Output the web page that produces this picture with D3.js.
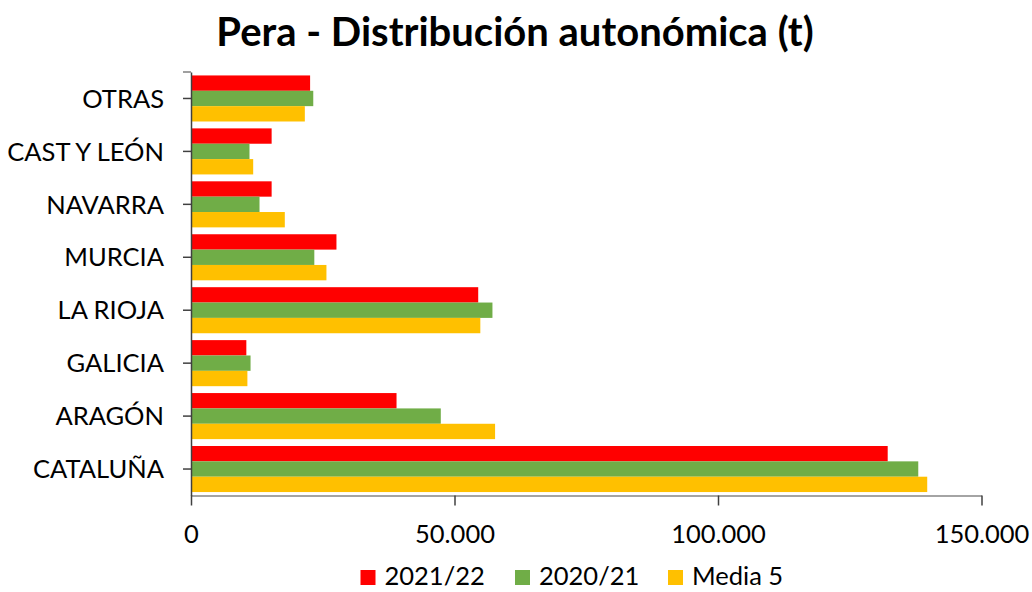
<!DOCTYPE html>
<html><head><meta charset="utf-8">
<script src="https://cdn.jsdelivr.net/npm/d3@7"></script>
<style>body{margin:0;background:#fff}svg{display:block}text{font-family:Lato,"Open Sans",sans-serif}</style>
</head><body>
<svg id="c" width="1032" height="592"></svg>
<script>
const categories = ["OTRAS","CAST Y LEÓN","NAVARRA","MURCIA","LA RIOJA","GALICIA","ARAGÓN","CATALUÑA"];
const seriesNames = ["2021/22","2020/21","Media 5"];
const v2122 = [22600,15300,15300,27600,54500,10500,39000,132200];
const v2021 = [23200,11100,13000,23400,57200,11300,47400,138000];
const media5 = [21600,11800,17800,25700,54900,10700,57700,139700];
const xTicks = [0,50000,100000,150000];
const colors = ["#FF0000","#70AD47","#FFC000"];
const values = [v2122, v2021, media5];

const svg = d3.select("#c");
const pL = 191, pR = 981.5, pT = 72, pB = 495.5;
const FS = 25.5;
const x = d3.scaleLinear().domain([0,150000]).range([pL,pR]);
const y = d3.scaleBand().domain(categories).range([pT,pB]).paddingInner(0.13).paddingOuter(0.065);
const ySub = d3.scaleBand().domain(seriesNames).range([0,y.bandwidth()]);

svg.append("text").attr("x",515).attr("y",46).attr("text-anchor","middle")
  .attr("font-size",40).attr("font-weight","bold").text("Pera - Distribución autonómica (t)");

const g = svg.append("g");
seriesNames.forEach((s,si)=>{
  g.selectAll(null).data(categories).enter().append("rect")
    .attr("x",x(0)).attr("y",c=>y(c)+ySub(s))
    .attr("width",(c,i)=>x(values[si][i])-x(0)).attr("height",ySub.bandwidth())
    .attr("fill",colors[si]);
});

// x axis
const xa = svg.append("g").attr("transform",`translate(0,${pB})`)
  .call(d3.axisBottom(x).tickValues(xTicks).tickSize(10).tickSizeOuter(0)
    .tickFormat(d=>d===0?"0":d3.format(",")(d).replace(/,/g,".")));
xa.select(".domain").attr("stroke","#868686").attr("stroke-width",1.5);
xa.selectAll(".tick line").attr("stroke","#404040").attr("stroke-width",1.5);
xa.selectAll(".tick text").attr("font-size",FS).attr("fill","#000").attr("y",47.5).attr("dy",0)
  .style("font-family","Lato,'Open Sans',sans-serif");

// y axis
const ya = svg.append("g").attr("transform",`translate(${pL},0)`)
  .call(d3.axisLeft(y).tickSize(8).tickSizeOuter(0).tickPadding(20));
ya.select(".domain").attr("stroke","#404040").attr("stroke-width",1.5);
ya.selectAll(".tick line").attr("stroke","#404040").attr("stroke-width",1.5).attr("x2",0).attr("x1",-8);
ya.selectAll(".tick text").attr("font-size",FS).attr("fill","#000").attr("dy","0.36em").attr("x",-27)
  .style("font-family","Lato,'Open Sans',sans-serif");
ya.append("line").attr("x1",-8).attr("x2",0).attr("y1",pT).attr("y2",pT).attr("stroke","#808080").attr("stroke-width",1.5);

// legend
const legX = [360.5, 515, 668];
seriesNames.forEach((s,i)=>{
  svg.append("rect").attr("x",legX[i]).attr("y",570).attr("width",15).attr("height",15).attr("fill",colors[i]);
  svg.append("text").attr("x",legX[i]+24).attr("y",585).attr("font-size",FS).attr("fill","#000").text(s);
});
</script>
</body></html>
